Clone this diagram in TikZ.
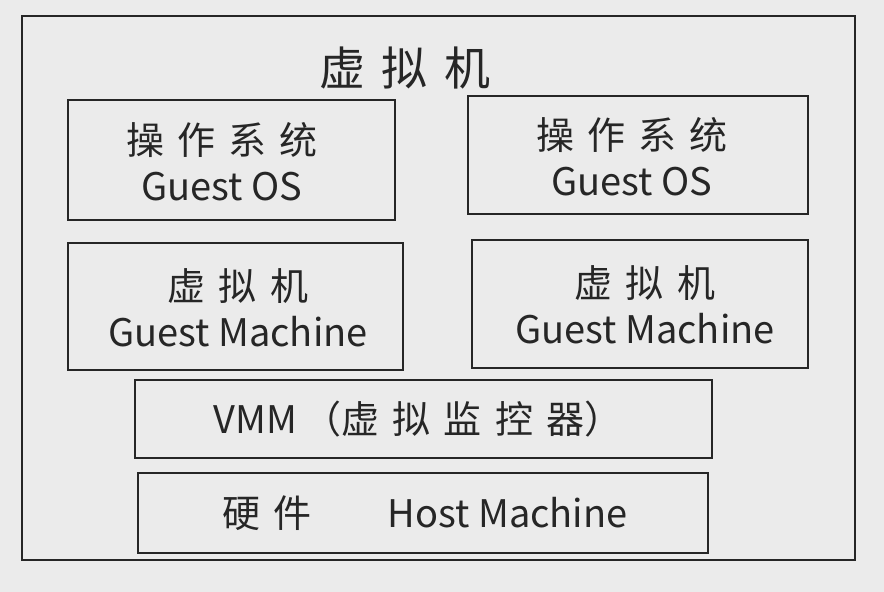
\documentclass[tikz,border=0pt]{standalone}
\usepackage{fontspec}
\setmainfont{Noto Sans CJK SC}
\newfontfamily\cjkwide[LetterSpace=35]{Noto Sans CJK SC}
\begin{document}
\begin{tikzpicture}[x=1pt,y=-1pt,
  box/.style={draw=black!85, line width=2.4pt},
  lbl/.style={align=center, font=\fontsize{38}{46}\selectfont, text=black!85}]
\useasboundingbox[fill=black!8] (0,0) rectangle (884,592);
\draw[box] (22,16) rectangle (855,560);
\node[lbl, font=\fontsize{46}{52}\selectfont] (title) at (405,68) {{\cjkwide 虚拟机}};
\draw[box] (68,100) rectangle (395,220);
\node[lbl] (os1) at (222,162) {{\cjkwide 操作系统}\\Guest OS};
\draw[box] (468,96) rectangle (808,214);
\node[lbl] (os2) at (632,157) {{\cjkwide 操作系统}\\Guest OS};
\draw[box] (68,243) rectangle (403,370);
\node[lbl] (vm1) at (238,308) {{\cjkwide 虚拟机}\\Guest Machine};
\draw[box] (472,240) rectangle (808,368);
\node[lbl] (vm2) at (645,305) {{\cjkwide 虚拟机}\\Guest Machine};
\draw[box] (135,380) rectangle (712,458);
\node[lbl] (vmm) at (418,419) {VMM\,（{\cjkwide 虚拟监控器}）};
\draw[box] (138,473) rectangle (708,553);
\node[lbl] (hw) at (425,513) {{\cjkwide 硬件}\hspace{2em}Host Machine};
\end{tikzpicture}
\end{document}
